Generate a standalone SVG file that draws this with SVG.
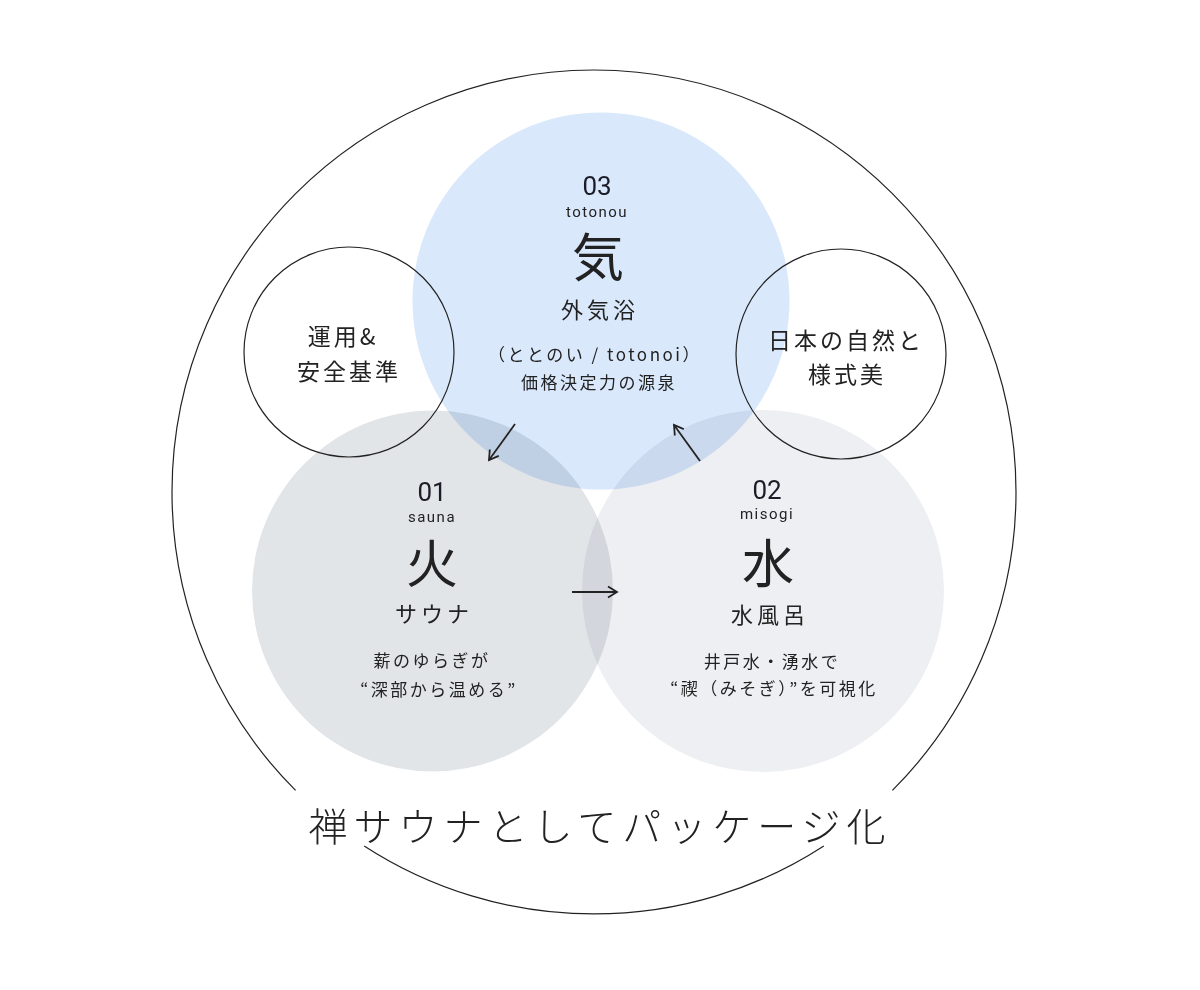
<svg xmlns="http://www.w3.org/2000/svg" width="1200" height="990" viewBox="0 0 1200 990">
  <style>
    .jp { font-family: "Noto Sans CJK JP", "Noto Sans", sans-serif; fill: #222; text-anchor: middle; }
    .num { font-family: Roboto, "Liberation Sans", sans-serif; fill: #1c1c28; text-anchor: middle; font-size: 26px; }
    .rom { font-family: Roboto, "Liberation Sans", sans-serif; fill: #222; text-anchor: middle; font-size: 15px; letter-spacing: 1.5px; }
    .big { font-size: 52px; font-weight: 400; }
    .name { font-size: 22px; letter-spacing: 4px; }
    .desc { font-size: 17px; letter-spacing: 2.5px; }
    .side { font-size: 23px; letter-spacing: 3px; }
    .ring { fill: none; stroke: #222; stroke-width: 1.2; }
    .blend { mix-blend-mode: multiply; }
    .conn { stroke: #222; stroke-width: 1.8; fill: none; }
  </style>
  <defs>
    <marker id="arr" markerUnits="userSpaceOnUse" markerWidth="14" markerHeight="14" refX="11" refY="7" orient="auto">
      <path d="M2,1.5 L11,7 L2,12.5" fill="none" stroke="#222" stroke-width="1.8"/>
    </marker>
  </defs>
  <rect width="1200" height="990" fill="#ffffff"/>

  <g id="outer-frame">
    <path class="ring" stroke-width="1.6" d="M295.6,790.4 A422,422 0 1 1 892.4,790.4"/>
    <path class="ring" stroke-width="1.6" d="M364.2,845.9 A422,422 0 0 0 823.8,845.9"/>
  </g>

  <g id="ki">
    <circle class="blend" cx="601" cy="301" r="188.5" fill="#d9e8fb"/>
  </g>
  <g id="hi">
    <circle class="blend" cx="432.5" cy="591" r="180.5" fill="#e2e5e8"/>
  </g>
  <g id="mizu">
    <circle class="blend" cx="763" cy="591" r="181" fill="#eeeff2"/>
  </g>

  <g id="ki-text">
    <text class="num" x="597" y="195">03</text>
    <text class="rom" x="597" y="217">totonou</text>
    <text class="jp big" x="598" y="277">気</text>
    <text class="jp name" x="600" y="318">外気浴</text>
    <text class="jp desc" x="595" y="361">（ととのい / totonoi）</text>
    <text class="jp desc" x="599" y="389">価格決定力の源泉</text>
  </g>

  <g id="hi-text">
    <text class="num" x="432" y="501">01</text>
    <text class="rom" x="432" y="522">sauna</text>
    <text class="jp big" x="432" y="583">火</text>
    <text class="jp name" x="434" y="622" letter-spacing="6">サウナ</text>
    <text class="jp desc" x="432" y="667">薪のゆらぎが</text>
    <text class="jp desc" x="439" y="696">“深部から温める”</text>
  </g>

  <g id="mizu-text">
    <text class="num" x="767" y="499">02</text>
    <text class="rom" x="767" y="519">misogi</text>
    <text class="jp big" x="768" y="583">水</text>
    <text class="jp name" x="770" y="623">水風呂</text>
    <text class="jp desc" x="772" y="668">井戸水・湧水で</text>
    <text class="jp desc" x="774" y="695">“禊（みそぎ）”を可視化</text>
  </g>

  <g id="ops">
    <circle class="ring" cx="349" cy="352" r="105"/>
    <text class="jp side" x="343" y="345">運用&amp;</text>
    <text class="jp side" x="349" y="380">安全基準</text>
  </g>

  <g id="nature">
    <circle class="ring" cx="841" cy="354" r="105"/>
    <text class="jp side" x="846" y="349">日本の自然と</text>
    <text class="jp side" x="847" y="383">様式美</text>
  </g>

  <g id="connectors">
    <line class="conn" x1="515" y1="424" x2="489" y2="460" marker-end="url(#arr)"/>
    <line class="conn" x1="700" y1="461" x2="674" y2="425" marker-end="url(#arr)"/>
    <line class="conn" x1="572" y1="592" x2="617" y2="592" marker-end="url(#arr)"/>
  </g>

  <g id="title">
    <text class="jp" x="600" y="841" font-size="39" letter-spacing="6" font-weight="300">禅サウナとしてパッケージ化</text>
  </g>
</svg>
